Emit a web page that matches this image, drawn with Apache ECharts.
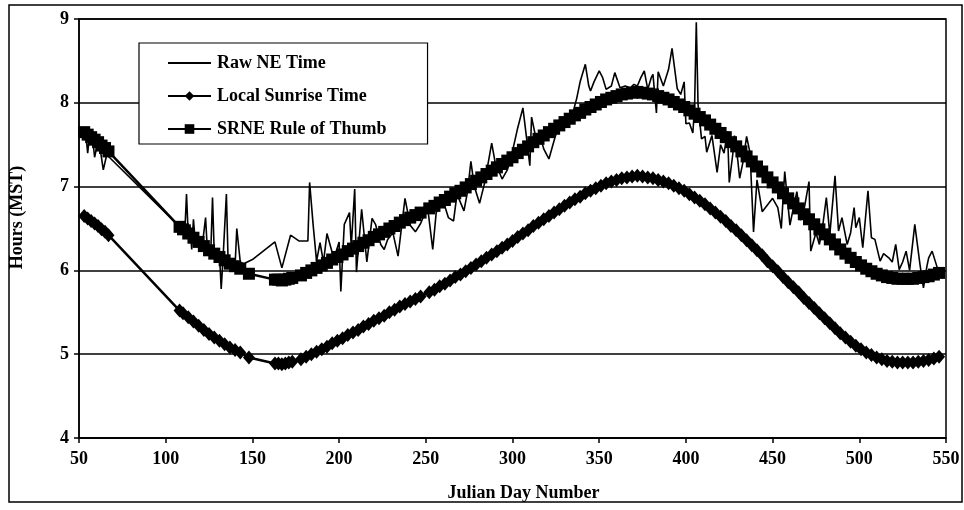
<!DOCTYPE html>
<html>
<head>
<meta charset="utf-8">
<script src="https://cdn.jsdelivr.net/npm/echarts@6/dist/echarts.min.js"></script>
<style>
html,body{margin:0;padding:0;background:#fff;}
#chart{width:964px;height:510px;}
</style>
</head>
<body>
<div id="chart"></div>
<script>
// ---- data ----
const xTicks = [50, 100, 150, 200, 250, 300, 350, 400, 450, 500, 550];
const yTicks = [4, 5, 6, 7, 8, 9];
const seriesNames = ['Raw NE Time', 'Local Sunrise Time', 'SRNE Rule of Thumb'];

const rawPoints = [
  [54,7.62],[55,7.40],[56,7.60],[58,7.55],[59,7.35],[61,7.55],[62,7.48],[64,7.20],[66,7.38],
  [110,6.48],[111,6.45],[112,6.91],[113,6.42],[114,6.55],[115,6.25],[116,6.61],[117,6.35],[119,6.32],
  [121,6.28],[123,6.63],[124,6.25],[126,6.22],[127,6.87],[128,6.20],[130,6.16],[131,6.20],[132,5.78],
  [133,6.12],[135,6.91],[136,6.10],[138,6.08],[140,6.05],[141,6.50],[143,6.10],[145,6.08],[150,6.13],
  [163,6.34],[167,6.03],[172,6.42],[177,6.35],[182,6.35],[183,7.05],[185,6.55],[187,6.11],[189,6.33],
  [191,6.10],[193,6.44],[197,6.14],[200,6.34],[201,5.75],[203,6.55],[206,6.69],[207,6.29],[209,6.97],
  [210,5.98],[213,6.73],[216,6.10],[219,6.62],[221,6.55],[224,6.31],[226,6.25],[228,6.37],[231,6.45],
  [234,6.17],[238,6.86],[241,6.54],[244,6.46],[247,6.56],[251,6.76],[254,6.25],[256,6.69],[260,6.83],
  [263,6.63],[266,6.59],[268,6.91],[272,6.71],[274,6.93],[276,7.30],[278,7.00],[281,6.80],[284,7.05],
  [288,7.52],[290,7.29],[294,7.09],[297,7.20],[299,7.33],[303,7.70],[306,7.94],[308,7.60],[310,7.25],
  [311,7.83],[313,7.63],[316,7.60],[318,7.45],[321,7.33],[324,7.55],[326,7.69],[328,7.79],[331,7.78],
  [334,7.82],[337,8.05],[339,8.25],[342,8.46],[344,8.20],[345,8.14],[347,8.25],[350,8.38],[352,8.30],
  [354,8.16],[357,8.20],[359,8.36],[362,8.18],[365,8.20],[368,8.18],[370,8.22],[372,8.20],[374,8.30],
  [376,8.38],[378,8.16],[380,8.30],[381,8.34],[383,7.88],[384,8.37],[387,8.20],[390,8.40],[392,8.65],
  [395,8.17],[397,8.10],[399,8.25],[400,7.75],[402,7.76],[404,7.64],[405,7.95],[406,8.96],[407,7.98],
  [409,7.57],[411,7.60],[412,7.41],[415,7.61],[418,7.17],[420,7.50],[422,7.40],[424,7.66],[425,7.05],
  [427,7.38],[428,7.61],[430,7.30],[431,7.10],[433,7.30],[435,7.60],[437,7.40],[439,6.46],[441,7.08],
  [444,6.70],[447,6.78],[450,6.86],[453,6.75],[455,6.50],[457,7.18],[460,6.54],[462,6.75],[464,6.94],
  [466,6.60],[468,6.71],[471,7.06],[472,6.23],[475,6.45],[477,6.31],[479,6.55],[481,6.87],[483,6.43],
  [486,7.13],[488,6.47],[490,6.63],[493,6.31],[495,6.45],[497,6.75],[498,6.51],[500,6.63],[502,6.27],
  [505,6.95],[507,6.39],[509,6.37],[512,6.11],[514,6.20],[517,6.15],[519,6.10],[521,6.31],[523,6.01],
  [525,6.10],[527,6.23],[529,6.00],[532,6.55],[535,6.07],[537,5.79],[539,6.05],[540,6.15],[542,6.23],
  [545,6.03]
];

const sunrisePoints = [
  [53,6.65],[55,6.62],[57,6.59],[59,6.56],[61,6.53],[63,6.49],[65,6.46],[67,6.42],
  [108,5.52],[110,5.49],[113,5.44],[116,5.39],[119,5.34],[122,5.29],[125,5.24],[128,5.20],[131,5.16],
  [134,5.12],[137,5.08],[140,5.05],[143,5.02],[148,4.96],
  [163,4.89],[165,4.89],[167,4.88],[169,4.89],[171,4.90],[173,4.91],
  [178,4.94],[181,4.97],[184,5.00],[187,5.03],[190,5.06],[193,5.09],[196,5.13],[199,5.16],[202,5.19],
  [205,5.23],[208,5.26],[211,5.29],[214,5.33],[217,5.36],[220,5.40],[223,5.43],[226,5.46],[229,5.50],
  [232,5.53],[235,5.57],[238,5.60],[241,5.63],[244,5.66],[247,5.69],
  [252,5.74],[255,5.77],[258,5.81],[261,5.84],[264,5.88],[267,5.92],[270,5.95],[273,5.99],[276,6.03],
  [279,6.07],[282,6.11],[285,6.15],[288,6.19],[291,6.23],[294,6.27],[297,6.31],[300,6.35],[303,6.40],
  [306,6.44],[309,6.48],[312,6.53],[315,6.57],[318,6.61],[321,6.65],[324,6.69],[327,6.73],[330,6.77],
  [333,6.81],[336,6.85],[339,6.88],[342,6.92],[345,6.95],[348,6.98],[351,7.01],[354,7.04],[357,7.06],
  [360,7.08],[363,7.10],[366,7.11],[369,7.12],[372,7.13],[375,7.12],[378,7.11],[381,7.10],[384,7.08],
  [387,7.06],[390,7.04],[393,7.01],[396,6.98],[399,6.95],[402,6.91],[405,6.87],[408,6.83],[411,6.79],
  [414,6.74],[417,6.69],[420,6.64],[423,6.59],[426,6.53],[429,6.48],[432,6.42],[435,6.36],[438,6.30],
  [441,6.24],[444,6.18],[447,6.11],[450,6.05],[453,5.99],[456,5.92],[459,5.86],[462,5.80],[465,5.74],
  [468,5.67],[471,5.61],[474,5.55],[477,5.49],[480,5.43],[483,5.37],[486,5.31],[489,5.25],[492,5.20],
  [495,5.15],[498,5.10],[501,5.06],[504,5.02],[507,4.99],[510,4.96],[513,4.94],[516,4.92],[519,4.91],
  [522,4.90],[525,4.90],[528,4.90],[531,4.90],[534,4.91],[537,4.92],[540,4.93],[543,4.95],[546,4.97]
];

const srnePoints = [
  [53,7.65],[55,7.62],[57,7.59],[59,7.56],[61,7.53],[63,7.49],[65,7.46],[67,7.42],
  [108,6.52],[110,6.49],[113,6.44],[116,6.39],[119,6.34],[122,6.29],[125,6.24],[128,6.20],[131,6.16],
  [134,6.12],[137,6.08],[140,6.05],[143,6.02],[148,5.96],
  [163,5.89],[165,5.89],[167,5.88],[169,5.89],[171,5.90],[173,5.91],
  [178,5.94],[181,5.97],[184,6.00],[187,6.03],[190,6.06],[193,6.09],[196,6.13],[199,6.16],[202,6.19],
  [205,6.23],[208,6.26],[211,6.29],[214,6.33],[217,6.36],[220,6.40],[223,6.43],[226,6.46],[229,6.50],
  [232,6.53],[235,6.57],[238,6.60],[241,6.63],[244,6.66],[247,6.69],
  [252,6.74],[255,6.77],[258,6.81],[261,6.84],[264,6.88],[267,6.92],[270,6.95],[273,6.99],[276,7.03],
  [279,7.07],[282,7.11],[285,7.15],[288,7.19],[291,7.23],[294,7.27],[297,7.31],[300,7.35],[303,7.40],
  [306,7.44],[309,7.48],[312,7.53],[315,7.57],[318,7.61],[321,7.65],[324,7.69],[327,7.73],[330,7.77],
  [333,7.81],[336,7.85],[339,7.88],[342,7.92],[345,7.95],[348,7.98],[351,8.01],[354,8.04],[357,8.06],
  [360,8.08],[363,8.10],[366,8.11],[369,8.12],[372,8.13],[375,8.12],[378,8.11],[381,8.10],[384,8.08],
  [387,8.06],[390,8.04],[393,8.01],[396,7.98],[399,7.95],[402,7.91],[405,7.87],[408,7.83],[411,7.79],
  [414,7.74],[417,7.69],[420,7.64],[423,7.59],[426,7.53],[429,7.48],[432,7.42],[435,7.36],[438,7.30],
  [441,7.24],[444,7.18],[447,7.11],[450,7.05],[453,6.99],[456,6.92],[459,6.86],[462,6.80],[465,6.74],
  [468,6.67],[471,6.61],[474,6.55],[477,6.49],[480,6.43],[483,6.37],[486,6.31],[489,6.25],[492,6.20],
  [495,6.15],[498,6.10],[501,6.06],[504,6.02],[507,5.99],[510,5.96],[513,5.94],[516,5.92],[519,5.91],
  [522,5.90],[525,5.90],[528,5.90],[531,5.90],[534,5.91],[537,5.92],[540,5.93],[543,5.95],[546,5.97]
];

// ---- chart ----
const FONT = "'Liberation Serif', 'Times New Roman', serif";
const chart = echarts.init(document.getElementById('chart'), null, {renderer: 'canvas'});
chart.setOption({
  animation: false,
  backgroundColor: '#fff',
  grid: {
    left: 79, right: 18, top: 19, bottom: 72,
    show: true, borderColor: '#000', borderWidth: 1.5, backgroundColor: 'transparent'
  },
  graphic: [{
    type: 'rect', silent: true, z: -1,
    shape: {x: 9, y: 5, width: 953, height: 497},
    style: {fill: 'none', stroke: '#000', lineWidth: 1.5}
  }],
  legend: {
    orient: 'vertical',
    left: 139, top: 43,
    padding: [11, 41, 6, 28],
    itemGap: 15,
    itemWidth: 43, itemHeight: 12,
    backgroundColor: '#fff',
    borderColor: '#000', borderWidth: 1.2, borderRadius: 0,
    data: [
      {name: seriesNames[0], itemStyle: {opacity: 0}},
      {name: seriesNames[1]},
      {name: seriesNames[2]}
    ],
    textStyle: {fontFamily: FONT, fontWeight: 'bold', fontSize: 18, color: '#000', padding: [0,0,0,1]},
    z: 10
  },
  xAxis: {
    type: 'value', min: xTicks[0], max: xTicks[xTicks.length - 1], interval: 50,
    name: 'Julian Day Number', nameLocation: 'middle', nameGap: 46,
    nameTextStyle: {fontFamily: FONT, fontWeight: 'bold', fontSize: 18, color: '#000', padding: [0,0,0,22]},
    axisLine: {show: true, onZero: false, lineStyle: {color: '#000', width: 1.5}},
    axisTick: {show: true, inside: false, length: 5, lineStyle: {color: '#000', width: 1.5}},
    axisLabel: {margin: 12, fontFamily: FONT, fontWeight: 'bold', fontSize: 18, color: '#000'},
    splitLine: {show: false}
  },
  yAxis: {
    type: 'value', min: yTicks[0], max: yTicks[yTicks.length - 1], interval: 1,
    name: 'Hours (MST)', nameLocation: 'middle', nameGap: 53,
    nameTextStyle: {fontFamily: FONT, fontWeight: 'bold', fontSize: 18, color: '#000', padding: [0,0,0,22]},
    axisLine: {show: true, onZero: false, lineStyle: {color: '#000', width: 1.5}},
    axisTick: {show: true, inside: false, length: 5, lineStyle: {color: '#000', width: 1.5}},
    axisLabel: {margin: 10, fontFamily: FONT, fontWeight: 'bold', fontSize: 18, color: '#000'},
    splitLine: {show: true, lineStyle: {color: '#000', width: 1.5}}
  },
  series: [
    {
      name: seriesNames[0], type: 'line', data: rawPoints,
      symbol: 'none', showSymbol: false,
      lineStyle: {color: '#000', width: 1.6},
      itemStyle: {color: '#000'},
      z: 2
    },
    {
      name: seriesNames[1], type: 'line', data: sunrisePoints,
      symbol: 'diamond', symbolSize: [12, 14], showAllSymbol: true,
      lineStyle: {color: '#000', width: 2.5},
      itemStyle: {color: '#000', borderWidth: 0},
      z: 3
    },
    {
      name: seriesNames[2], type: 'line', data: srnePoints,
      symbol: 'rect', symbolSize: 12, showAllSymbol: true,
      lineStyle: {color: '#000', width: 2.5},
      itemStyle: {color: '#000', borderWidth: 0},
      z: 4
    }
  ]
});
</script>
</body>
</html>
